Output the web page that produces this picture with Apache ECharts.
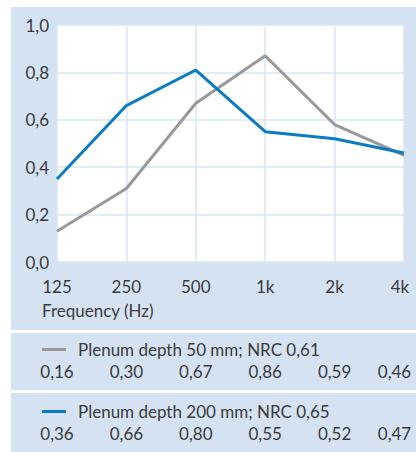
<!DOCTYPE html>
<html>
<head>
<meta charset="utf-8">
<script src="https://cdn.jsdelivr.net/npm/echarts@6/dist/echarts.min.js"></script>
<style>
  html, body { margin: 0; padding: 0; background: #fff; }
  #chart { width: 416px; height: 452px; }
</style>
</head>
<body>
<div id="chart"></div>
<script>
// frequency bands
const frequencies = ['125', '250', '500', '1k', '2k', '4k'];
// curve positions as drawn in the plot
const plenum50Curve = [0.13, 0.31, 0.67, 0.87, 0.58, 0.45];
const plenum200Curve = [0.35, 0.66, 0.81, 0.55, 0.52, 0.46];
// tabulated absorption values
const plenum50Table = [0.16, 0.30, 0.67, 0.86, 0.59, 0.46];
const plenum200Table = [0.36, 0.66, 0.80, 0.55, 0.52, 0.47];
const nrc50 = 0.61;
const nrc200 = 0.65;

const comma = (v, d) => v.toFixed(d).replace('.', ',');
const name50 = 'Plenum depth 50 mm; NRC ' + comma(nrc50, 2);
const name200 = 'Plenum depth 200 mm; NRC ' + comma(nrc200, 2);

const FONT = 'Lato';
const TXT = '#3b3b3b';
const PANEL = '#d4e2f2';
const GRAY = '#999999';
const BLUE = '#0a7cc2';

// last label sits a bit left so it stays inside the panel
function lastShift(pad) {
  return {
    formatter: (v, i) => i === frequencies.length - 1 ? '{r|' + v + '}' : v,
    rich: {r: {fontFamily: FONT, fontSize: 17, color: TXT, padding: [0, pad, 0, 0]}}
  };
}

function tableAxis(labels, offset) {
  return {
    type: 'category',
    gridIndex: 0,
    position: 'bottom',
    offset: offset,
    boundaryGap: false,
    data: labels,
    axisLine: {show: false},
    axisTick: {show: false},
    splitLine: {show: false},
    axisLabel: Object.assign({
      interval: 0, margin: 16, fontFamily: FONT, fontSize: 17, color: TXT
    }, lastShift(19))
  };
}

const chart = echarts.init(document.getElementById('chart'), null, {renderer: 'svg'});
chart.setOption({
  animation: false,
  graphic: [
    {type: 'rect', z: -10, shape: {x: 11, y: 7, width: 405, height: 323}, style: {fill: PANEL}},
    {type: 'rect', z: -10, shape: {x: 11, y: 333, width: 405, height: 57}, style: {fill: PANEL}},
    {type: 'rect', z: -10, shape: {x: 11, y: 393, width: 405, height: 59}, style: {fill: PANEL}}
  ],
  title: {
    text: 'Frequency (Hz)',
    left: 42, top: 302, padding: 0,
    textStyle: {fontFamily: FONT, fontSize: 17, fontWeight: 'normal', color: TXT}
  },
  legend: [
    {
      data: [name50], left: 42, top: 341, padding: 0,
      icon: 'rect', itemWidth: 24, itemHeight: 3,
      textStyle: {fontFamily: FONT, fontSize: 17, color: TXT, padding: [0, 0, 0, 7]}
    },
    {
      data: [name200], left: 42, top: 403, padding: 0,
      icon: 'rect', itemWidth: 24, itemHeight: 3,
      textStyle: {fontFamily: FONT, fontSize: 17, color: TXT, padding: [0, 0, 0, 7]}
    }
  ],
  grid: {
    left: 57, right: 12, top: 25, bottom: 190,
    show: true, backgroundColor: '#fff', borderWidth: 0
  },
  xAxis: [
    {
      type: 'category',
      boundaryGap: false,
      data: frequencies,
      axisLine: {show: false},
      axisTick: {show: false},
      splitLine: {show: true, lineStyle: {color: '#d8e6f4', width: 1.5}},
      axisLabel: Object.assign({
        interval: 0, margin: 16, fontFamily: FONT, fontSize: 17, color: TXT
      }, lastShift(8))
    },
    tableAxis(plenum50Table.map(v => comma(v, 2)), 85),
    tableAxis(plenum200Table.map(v => comma(v, 2)), 147)
  ],
  yAxis: {
    type: 'value',
    min: 0, max: 1, interval: 0.2,
    axisLine: {show: false},
    axisTick: {show: false},
    splitLine: {lineStyle: {color: '#d8e6f4', width: 1.5}},
    axisLabel: {
      margin: 8, fontFamily: FONT, fontSize: 17, color: TXT,
      formatter: v => comma(v, 1)
    }
  },
  series: [
    {
      name: name50, type: 'line', data: plenum50Curve,
      symbol: 'none', color: GRAY, lineStyle: {width: 3, color: GRAY}
    },
    {
      name: name200, type: 'line', data: plenum200Curve,
      symbol: 'none', color: BLUE, lineStyle: {width: 3, color: BLUE}
    }
  ]
});
</script>
</body>
</html>
